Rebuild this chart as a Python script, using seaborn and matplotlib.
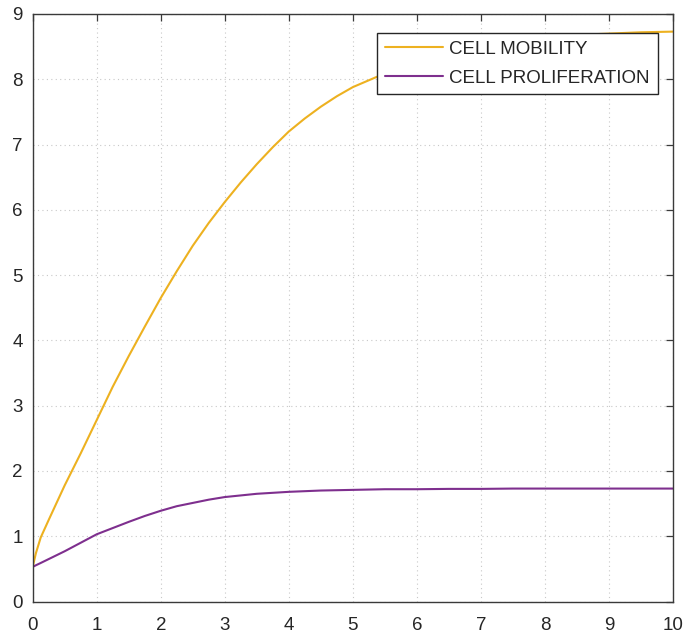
import matplotlib
matplotlib.use("Agg")
import matplotlib.pyplot as plt
from matplotlib.lines import Line2D
import seaborn as sns
import pandas as pd

# Data
t_values = [0, 0.05, 0.125, 0.25, 0.5, 0.75, 1.0, 1.25, 1.5, 1.75, 2.0, 2.25, 2.5, 2.75, 3.0,
            3.25, 3.5, 3.75, 4.0, 4.25, 4.5, 4.75, 5.0, 5.5, 6.0, 6.5, 7.0, 7.5, 8.0, 8.5, 9.0, 9.5, 10.0]
cell_mobility = [0.53, 0.74, 0.98, 1.25, 1.78, 2.27, 2.78, 3.29, 3.76, 4.21, 4.65, 5.06, 5.45, 5.80, 6.12,
                 6.42, 6.70, 6.96, 7.20, 7.40, 7.58, 7.74, 7.88, 8.09, 8.26, 8.40, 8.50, 8.58, 8.64, 8.68,
                 8.70, 8.72, 8.73]
cell_proliferation = [0.53, 0.555, 0.59, 0.65, 0.77, 0.90, 1.03, 1.125, 1.22, 1.31, 1.39, 1.46, 1.51, 1.56, 1.60,
                      1.625, 1.65, 1.665, 1.68, 1.69, 1.70, 1.705, 1.71, 1.72, 1.72, 1.725, 1.725, 1.73, 1.73,
                      1.73, 1.73, 1.73, 1.73]
series_names = ["CELL MOBILITY", "CELL PROLIFERATION"]
series_colors = ["#EDB120", "#7E2F8E"]
x_ticks = list(range(0, 11))
y_ticks = list(range(0, 10))

sns.set_theme(style="white")
plt.rcParams['font.family'] = ['Liberation Sans', 'DejaVu Sans']

df = pd.DataFrame({
    "t": t_values * 2,
    "value": cell_mobility + cell_proliferation,
    "series": [series_names[0]] * len(t_values) + [series_names[1]] * len(t_values),
})

fig = plt.figure(figsize=(6.88, 6.43), dpi=100)
ax = fig.add_axes([32.7 / 688, 1 - 601.5 / 643, (673 - 32.7) / 688, (601.5 - 14) / 643])

sns.lineplot(data=df, x="t", y="value", hue="series", hue_order=series_names,
             palette=series_colors, linewidth=1.5, ax=ax, legend=False)

ax.set_xlim(0, 10)
ax.set_ylim(0, 9)
ax.set_xticks(x_ticks)
ax.set_yticks(y_ticks)
ax.set_xlabel("")
ax.set_ylabel("")
ax.grid(True, linestyle=(0, (1, 3)), color="#c8c8c8", linewidth=0.8)
ax.set_axisbelow(True)
for s in ax.spines.values():
    s.set_visible(True)
    s.set_color("#3a3a3a")
    s.set_linewidth(1.0)
ax.tick_params(axis="both", which="both", direction="in", length=5, width=0.9,
               colors="#3a3a3a", labelcolor="#262626", labelsize=13.5,
               top=True, right=True)
ax.tick_params(axis="x", pad=11)
ax.tick_params(axis="y", pad=7)

handles = [Line2D([], [], color=c, linewidth=1.5) for c in series_colors]
leg = ax.legend(handles, series_names, loc="upper right", bbox_to_anchor=(0.976, 0.968),
                borderaxespad=0, fontsize=13.5, frameon=True, fancybox=False,
                framealpha=1, edgecolor="#262626", handlelength=3.1, handletextpad=0.32,
                labelspacing=0.62, borderpad=0.42)
leg.get_frame().set_linewidth(1.0)

fig.savefig("out.png", dpi=100)
